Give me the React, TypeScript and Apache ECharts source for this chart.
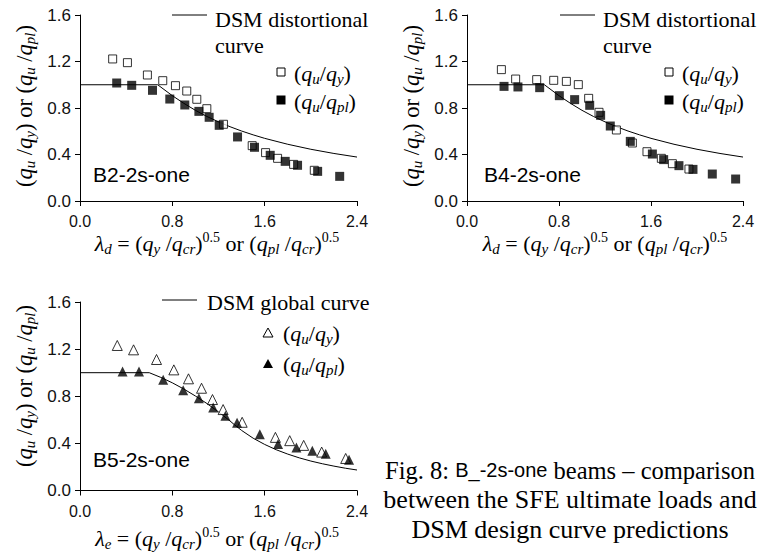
import { useEffect, useRef } from 'react';
import * as echarts from 'echarts';

// ---------- data ----------
// B2-2s-one
const b2QyX = [0.283, 0.411, 0.584, 0.717, 0.827, 0.925, 1.012, 1.099, 1.243, 1.492, 1.608, 1.712, 1.851, 2.03];
const b2QyY = [1.222, 1.19, 1.084, 1.035, 0.992, 0.946, 0.875, 0.794, 0.66, 0.476, 0.416, 0.367, 0.315, 0.264];
const b2QplX = [0.318, 0.448, 0.628, 0.778, 0.908, 1.03, 1.119, 1.206, 1.365, 1.512, 1.648, 1.778, 1.885, 2.059, 2.25];
const b2QplY = [1.015, 0.995, 0.952, 0.877, 0.826, 0.771, 0.72, 0.651, 0.551, 0.462, 0.393, 0.341, 0.307, 0.255, 0.212];

// B4-2s-one
const b4QyX = [0.299, 0.423, 0.606, 0.754, 0.864, 0.968, 1.058, 1.148, 1.299, 1.438, 1.565, 1.69, 1.786, 1.93];
const b4QyY = [1.13, 1.049, 1.044, 1.038, 1.029, 1.001, 0.883, 0.763, 0.611, 0.499, 0.424, 0.367, 0.321, 0.275];
const b4QplX = [0.322, 0.443, 0.632, 0.803, 0.936, 1.067, 1.162, 1.246, 1.42, 1.612, 1.71, 1.843, 1.965, 2.133, 2.336];
const b4QplY = [0.986, 0.981, 0.975, 0.906, 0.872, 0.823, 0.737, 0.645, 0.513, 0.404, 0.356, 0.304, 0.272, 0.232, 0.189];

// B5-2s-one
const b5QyX = [0.323, 0.464, 0.663, 0.813, 0.94, 1.053, 1.148, 1.24, 1.405, 1.693, 1.817, 1.938, 2.094, 2.302];
const b5QyY = [1.231, 1.194, 1.112, 1.024, 0.948, 0.868, 0.772, 0.687, 0.579, 0.451, 0.423, 0.383, 0.326, 0.272];
const b5QplX = [0.369, 0.511, 0.721, 0.894, 1.03, 1.154, 1.26, 1.361, 1.558, 1.716, 1.875, 2.013, 2.129, 2.331];
const b5QplY = [1.01, 1.01, 0.939, 0.851, 0.783, 0.704, 0.635, 0.576, 0.477, 0.394, 0.366, 0.338, 0.312, 0.261];

// DSM curves
const distCurveX = [0, 0.673, 0.8, 0.9, 1.0, 1.1, 1.2, 1.3, 1.4, 1.5, 1.6, 1.8, 2.0, 2.2, 2.4];
const distCurveY = [1.0, 1.0, 0.906, 0.84, 0.78, 0.727, 0.681, 0.639, 0.602, 0.569, 0.539, 0.488, 0.445, 0.409, 0.378];
const globCurveX = [0, 0.6, 0.7, 0.8, 0.9, 1.0, 1.1, 1.2, 1.3, 1.336, 1.4, 1.5, 1.6, 1.7, 1.8, 1.9, 2.0, 2.1, 2.2, 2.3, 2.4];
const globCurveY = [1.0, 1.0, 0.96, 0.914, 0.861, 0.802, 0.738, 0.667, 0.59, 0.56, 0.51, 0.444, 0.391, 0.346, 0.309, 0.277, 0.25, 0.227, 0.207, 0.189, 0.174];

const xTickRange = { min: 0, max: 2.4, interval: 0.8 };
const yTickRange = { min: 0, max: 1.6, interval: 0.4 };

const panelNames = ['B2-2s-one', 'B4-2s-one', 'B5-2s-one'];

// ---------- styling ----------
const SERIF = "'Liberation Serif', 'Times New Roman', serif";
const SANS = "'Liberation Sans', Arial, Helvetica, sans-serif";

function zip(xs: number[], ys: number[]) {
  return xs.map((x, i) => [x, ys[i]]);
}

function rich(size: number, sansSize?: number) {
  const sub = Math.round(size * 0.68);
  const sup = Math.round(size * 0.62);
  return {
    n: { fontFamily: SERIF, fontSize: size, lineHeight: size + 4, fill: '#000' },
    i: { fontFamily: SERIF, fontStyle: 'italic', fontSize: size, lineHeight: size + 4, fill: '#000' },
    s: { fontFamily: SERIF, fontStyle: 'italic', fontSize: sub, verticalAlign: 'bottom', fill: '#000' },
    p: { fontFamily: SERIF, fontSize: sup, verticalAlign: 'top', fill: '#000' },
    a: { fontFamily: SANS, fontSize: sansSize || Math.round(size * 0.85), lineHeight: size + 4, fill: '#000' },
  };
}

const yTitle = '{n|(}{i|q}{s|u}{n| /}{i|q}{s|y}{n|) or (}{i|q}{s|u}{n| /}{i|q}{s|pl}{n|)}';
const xTitleD = '{i|λ}{s|d}{n| = (}{i|q}{s|y}{n| /}{i|q}{s|cr}{n|)}{p|0.5}{n| or (}{i|q}{s|pl}{n| /}{i|q}{s|cr}{n|)}{p|0.5}';
const xTitleE = '{i|λ}{s|e}{n| = (}{i|q}{s|y}{n| /}{i|q}{s|cr}{n|)}{p|0.5}{n| or (}{i|q}{s|pl}{n| /}{i|q}{s|cr}{n|)}{p|0.5}';
const legQy = '{n|(}{i|q}{s|u}{n|/}{i|q}{s|y}{n|)}';
const legQpl = '{n|(}{i|q}{s|u}{n|/}{i|q}{s|pl}{n|)}';

function richText(x: number, y: number, text: string, size: number, align = 'left', rotation = 0, sansSize?: number) {
  return {
    type: 'text',
    x,
    y,
    rotation,
    silent: true,
    style: { text, rich: rich(size, sansSize), align, verticalAlign: 'middle' },
  };
}

function plainText(x: number, y: number, text: string, size: number, family: string, align = 'left') {
  return {
    type: 'text',
    x,
    y,
    silent: true,
    style: { text, fontFamily: family, fontSize: size, fill: '#000', align, verticalAlign: 'middle' },
  };
}

function xAxisCfg(gridIndex: number, margin: number) {
  return {
    type: 'value',
    gridIndex,
    ...xTickRange,
    axisLine: { show: true, onZero: false, lineStyle: { color: '#000', width: 1 } },
    axisTick: { show: true, inside: false, length: 5, lineStyle: { color: '#000', width: 1 } },
    axisLabel: { margin, fontFamily: SANS, fontSize: 16, color: '#111', formatter: (v: number) => v.toFixed(1) },
    splitLine: { show: false },
  };
}

function yAxisCfg(gridIndex: number) {
  return {
    type: 'value',
    gridIndex,
    ...yTickRange,
    axisLine: { show: true, onZero: false, lineStyle: { color: '#000', width: 1 } },
    axisTick: { show: true, inside: false, length: 5, lineStyle: { color: '#000', width: 1 } },
    axisLabel: { margin: 9, fontFamily: SANS, fontSize: 17, color: '#111', formatter: (v: number) => v.toFixed(1) },
    splitLine: { show: false },
  };
}

function panelSeries(idx: number, cx: number[], cy: number[], ox: number[], oy: number[], fx: number[], fy: number[], tri: boolean) {
  return [
    {
      type: 'line',
      name: idx === 2 ? 'DSM global curve' : 'DSM distortional curve',
      xAxisIndex: idx,
      yAxisIndex: idx,
      data: zip(cx, cy),
      symbol: 'none',
      showSymbol: false,
      lineStyle: { color: '#000', width: 1 },
      z: 2,
      silent: true,
    },
    {
      type: 'scatter',
      name: '(qu/qy)',
      xAxisIndex: idx,
      yAxisIndex: idx,
      data: zip(ox, oy),
      symbol: tri ? 'triangle' : 'rect',
      symbolSize: tri ? 10 : 8,
      itemStyle: { color: '#fff', borderColor: '#000', borderWidth: 1 },
      z: 3,
      silent: true,
    },
    {
      type: 'scatter',
      name: '(qu/qpl)',
      xAxisIndex: idx,
      yAxisIndex: idx,
      data: zip(fx, fy),
      symbol: tri ? 'triangle' : 'rect',
      symbolSize: tri ? 10 : 9,
      itemStyle: { color: '#000' },
      z: 4,
      silent: true,
    },
  ];
}

function squareLegend(lineX: number, textX: number, symX: number, symTextX: number, top: number, label: string) {
  return [
    { type: 'line', silent: true, shape: { x1: lineX, y1: top, x2: lineX + 35, y2: top }, style: { stroke: '#000', lineWidth: 1 } },
    plainText(textX, top + 4, label, 22, SERIF),
    plainText(textX, top + 30, 'curve', 22, SERIF),
    { type: 'rect', silent: true, shape: { x: symX - 4, y: top + 53, width: 8, height: 8 }, style: { fill: '#fff', stroke: '#000', lineWidth: 1 } },
    { type: 'rect', silent: true, shape: { x: symX - 4.5, y: top + 80.5, width: 9, height: 9 }, style: { fill: '#000' } },
    richText(symTextX, top + 58, legQy, 22),
    richText(symTextX, top + 86, legQpl, 22),
  ];
}

function triLegend(lineX: number, textX: number, symX: number, symTextX: number, top: number) {
  return [
    { type: 'line', silent: true, shape: { x1: lineX, y1: top, x2: lineX + 35, y2: top }, style: { stroke: '#000', lineWidth: 1 } },
    plainText(textX, top + 2, 'DSM global curve', 22, SERIF),
    { type: 'polygon', silent: true, shape: { points: [[symX, top + 28], [symX + 5, top + 37], [symX - 5, top + 37]] }, style: { fill: '#fff', stroke: '#000', lineWidth: 1 } },
    { type: 'polygon', silent: true, shape: { points: [[symX, top + 59], [symX + 5, top + 68], [symX - 5, top + 68]] }, style: { fill: '#000' } },
    richText(symTextX, top + 33, legQy, 22),
    richText(symTextX, top + 64, legQpl, 22),
  ];
}

export default function App() {
  const ref = useRef<HTMLDivElement>(null);

  useEffect(() => {
    if (!ref.current) return;
    const chart = echarts.init(ref.current, undefined, { renderer: 'svg' });

    const graphic: any[] = [
      // y-axis titles
      richText(24, 106, yTitle, 22.5, 'center', Math.PI / 2),
      richText(411, 106, yTitle, 22.5, 'center', Math.PI / 2),
      richText(24, 386, yTitle, 22.5, 'center', Math.PI / 2),
      // x-axis titles
      richText(217, 243, xTitleD, 22, 'center'),
      richText(605, 243, xTitleD, 22, 'center'),
      richText(217, 538, xTitleE, 22, 'center'),
      // panel labels
      plainText(93, 174, panelNames[0], 21, SANS),
      plainText(484, 174, panelNames[1], 21, SANS),
      plainText(93, 459, panelNames[2], 21, SANS),
      // legends
      ...squareLegend(172, 215, 281, 294, 15, 'DSM distortional'),
      ...squareLegend(560, 603, 669, 682, 15, 'DSM distortional'),
      ...triLegend(162, 207, 268, 283, 300),
      // caption
      richText(570, 470, '{n|Fig. 8: }{a|B_-2s-one}{n| beams – comparison}', 24.5, 'center', 0, 20),
      plainText(570, 499.5, 'between the SFE ultimate loads and', 26, SERIF, 'center'),
      plainText(570, 529, 'DSM design curve predictions', 26, SERIF, 'center'),
    ];

    const option: any = {
      animation: false,
      backgroundColor: '#fff',
      grid: [
        { left: 80, top: 15, width: 277, height: 186 },
        { left: 467, top: 15, width: 276, height: 186 },
        { left: 80, top: 302, width: 277, height: 188.5 },
      ],
      xAxis: [xAxisCfg(0, 12), xAxisCfg(1, 12), xAxisCfg(2, 13)],
      yAxis: [yAxisCfg(0), yAxisCfg(1), yAxisCfg(2)],
      series: [
        ...panelSeries(0, distCurveX, distCurveY, b2QyX, b2QyY, b2QplX, b2QplY, false),
        ...panelSeries(1, distCurveX, distCurveY, b4QyX, b4QyY, b4QplX, b4QplY, false),
        ...panelSeries(2, globCurveX, globCurveY, b5QyX, b5QyY, b5QplX, b5QplY, true),
      ],
      graphic,
    };

    chart.setOption(option);
    return () => {
      chart.dispose();
    };
  }, []);

  return (
    <div
      ref={ref}
      style={{ position: 'absolute', left: 0, top: 0, width: 760, height: 554, background: '#fff' }}
    />
  );
}
